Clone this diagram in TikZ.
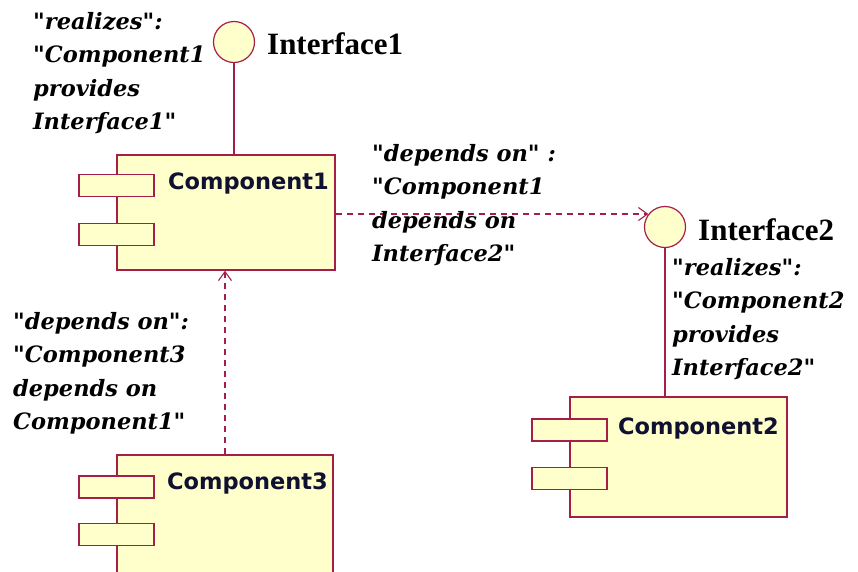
\documentclass[tikz,border=0pt]{standalone}
\usepackage{fontspec}
\setmainfont{DejaVu Serif}
\newfontfamily\compfont{DejaVu Sans}
\newfontfamily\notefont{DejaVu Serif}
\newfontfamily\ifacefont{Liberation Serif}
\usetikzlibrary{arrows.meta}
\definecolor{umlline}{RGB}{165,30,72}
\definecolor{umlfill}{RGB}{255,255,204}
\definecolor{umltext}{RGB}{16,16,48}
\begin{document}
\begin{tikzpicture}[x=1pt,y=-1pt,
  compbox/.style={draw=umlline,fill=umlfill,line width=1.4pt,rectangle,inner sep=0pt},
  portbox/.style={draw=umlline,fill=umlfill,line width=1.4pt,rectangle,inner sep=0pt,
    minimum width=75pt,minimum height=22pt},
  iface/.style={draw=umlline,fill=umlfill,line width=1.2pt,circle,inner sep=0pt,minimum size=41pt},
  comptext/.style={anchor=west,inner sep=0pt,text=umltext,font=\compfont\bfseries\fontsize{22.5}{25}\selectfont},
  ifacetext/.style={anchor=west,inner sep=0pt,font=\ifacefont\bfseries\fontsize{31}{33}\selectfont},
  note/.style={anchor=west,inner sep=0pt,align=left,font=\notefont\bfseries\itshape\fontsize{22.5}{33.5}\selectfont},
  link/.style={draw=umlline,line width=1.2pt},
  dep/.style={draw=umlline,line width=1.2pt,dash pattern=on 6pt off 5pt,
    -{Straight Barb[length=9pt,width=13pt,line width=1.1pt]}}]
\useasboundingbox[fill=white] (0,0) rectangle (858,571);
\begin{scope}
\clip (0,0) rectangle (858,571);

% Component1
\node[compbox,minimum width=218pt,minimum height=115pt] (c1) at (226,212.5) {};
\node[portbox] (c1p1) at (116.5,185.5) {};
\node[portbox] (c1p2) at (116.5,234.5) {};
\node[comptext] (c1t) at (168,183) {Component1};

% Component2
\node[compbox,minimum width=217pt,minimum height=120pt] (c2) at (678.5,457) {};
\node[portbox] (c2p1) at (569.5,430) {};
\node[portbox] (c2p2) at (569.5,478.5) {};
\node[comptext] (c2t) at (618,428) {Component2};

% Component3 (runs past the lower edge)
\node[compbox,minimum width=216pt,minimum height=140pt] (c3) at (225,525) {};
\node[portbox] (c3p1) at (116.5,487) {};
\node[portbox] (c3p2) at (116.5,534.5) {};
\node[comptext] (c3t) at (167,483) {Component3};

% Interfaces
\node[iface] (i1) at (234,42) {};
\node[ifacetext] (i1t) at (267,44) {Interface1};
\node[iface] (i2) at (665,227) {};
\node[ifacetext] (i2t) at (698,230) {Interface2};

% Realization links
\draw[link] (i1.south) -- (i1.south |- c1.north);
\draw[link] (i2.south) -- (i2.south |- c2.north);

% Dependencies
\coordinate (i2in) at (i2.142);
\draw[dep] (i2in -| c1.east) -- (i2in);
\draw[dep] (c3.north) -- (c3.north |- c1.south);

% Notes
\node[note] (n1) at (33,73) {"realizes":\\"Component1\\provides\\Interface1"};
\node[note] (n2) at (372,205) {"depends on" :\\"Component1\\depends on\\Interface2"};
\node[note] (n3) at (672,319) {"realizes":\\"Component2\\provides\\Interface2"};
\node[note] (n4) at (13,373.5) {"depends on":\\"Component3\\depends on\\Component1"};
\end{scope}
\end{tikzpicture}
\end{document}
